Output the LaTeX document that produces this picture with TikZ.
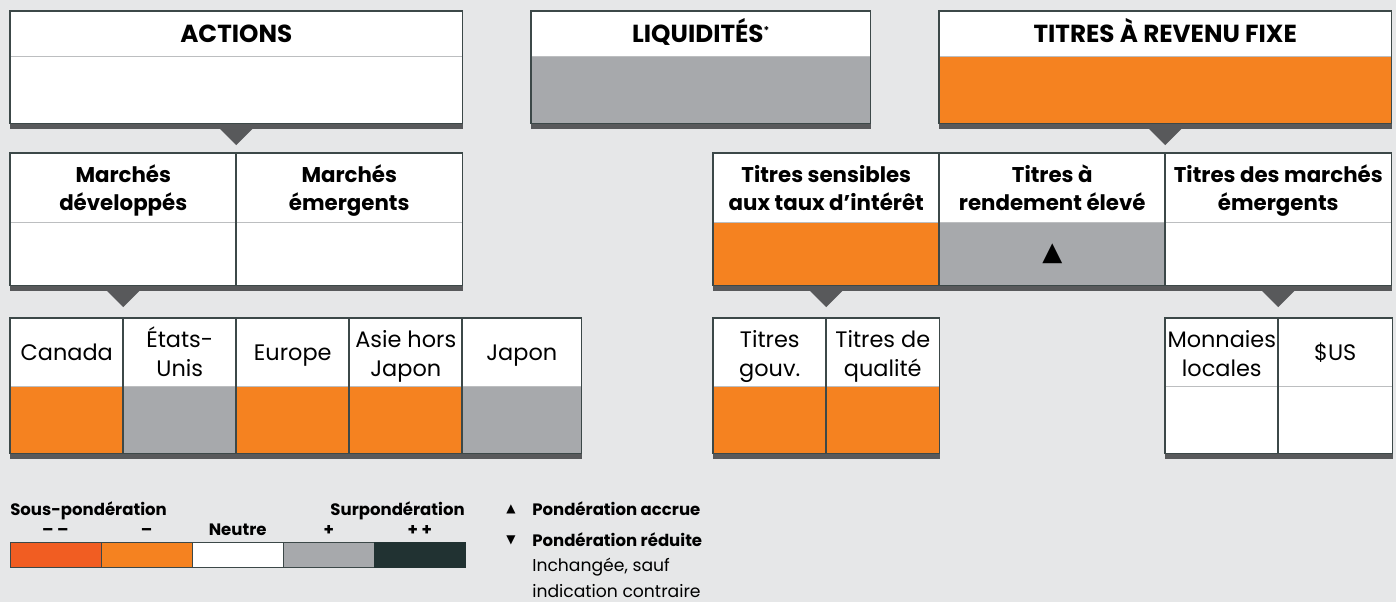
\documentclass[tikz,border=0pt]{standalone}
\usepackage{fontspec}
\setmainfont{Poppins}
\newfontfamily\symfont{DejaVu Sans}
\usetikzlibrary{calc}
\definecolor{bgc}{HTML}{E6E7E8}
\definecolor{orangec}{HTML}{F58220}
\definecolor{dorangec}{HTML}{F15D22}
\definecolor{grayc}{HTML}{A7A9AC}
\definecolor{darkc}{HTML}{213232}
\definecolor{barc}{HTML}{58595B}
\definecolor{bordc}{HTML}{3C4848}
\definecolor{sepcol}{HTML}{BCBEC0}
\tikzset{
  hdr/.style={anchor=north west, inner sep=0pt, fill=white},
  bodycell/.style={anchor=north west, inner sep=0pt},
  bord/.style={draw=bordc, line width=0.9pt},
  sepline/.style={draw=sepcol, line width=0.9pt},
  barfill/.style={fill=barc},
  celltext/.style={inner sep=0pt, anchor=base, align=center, text=black},
  topfont/.style={celltext, font=\fontsize{18.5}{22}\selectfont\bfseries},
  midfont/.style={celltext, font=\fontsize{16}{21}\selectfont\bfseries},
  lowfont/.style={celltext, font=\fontsize{16.8}{21}\selectfont},
  legb/.style={font=\fontsize{12.4}{15}\selectfont\bfseries, inner sep=0pt},
  legr/.style={font=\fontsize{12.9}{15}\selectfont, inner sep=0pt},
  legseg/.style={anchor=north west, inner sep=0pt, draw=bordc, line width=0.7pt,
    minimum width=91*0.75pt, minimum height=25*0.75pt},
}
% name, x, y, w, h1, h2, fill
\newcommand\mycell[7]{%
  \node[hdr, minimum width=#4*0.75pt, minimum height=#5*0.75pt] (#1h) at (#2,#3) {};
  \node[bodycell, fill=#7, minimum width=#4*0.75pt, minimum height=#6*0.75pt] (#1b) at (#2,#3+#5) {};
  \draw[sepline] (#1h.south west) -- (#1h.south east);
  \draw[bord] (#1h.north west) rectangle (#1b.south east);
}
% name, style, baseline (last line), text
\newcommand\mytext[4]{\node[#2] (#1t) at (#1h.center |- 0,#3) {#4};}
\newcommand\mybar[2]{\fill[barfill] (#1b.south west) rectangle ($(#2b.south east)+(0,5)$);}
\newcommand\mypointer[1]{\fill[barfill] ($(#1b.south)+(-16.5,5)$) -- ++(33,0) -- ++(-16.5,16.5) -- cycle;}
\begin{document}
\begin{tikzpicture}[x=0.75pt,y=-0.75pt]
\useasboundingbox[fill=bgc] (0,0) rectangle (1396,602);
% row 1
\mycell{act}{10}{11}{452}{45}{67}{white}
\mycell{liq}{531}{11}{339}{45}{67}{grayc}
\mycell{trf}{939}{11}{452}{45}{67}{orangec}
\mytext{act}{topfont}{43}{ACTIONS}
\mytext{liq}{topfont}{43}{LIQUIDITÉS\raisebox{0.62ex}{\fontsize{8}{8}\selectfont *}}
\mytext{trf}{topfont}{43}{TITRES À REVENU FIXE}
\mybar{act}{act}\mybar{liq}{liq}\mybar{trf}{trf}
\mypointer{act}\mypointer{trf}
% row 2
\mycell{md}{10}{153}{226}{69}{63}{white}
\mycell{me}{236}{153}{226}{69}{63}{white}
\mycell{ts}{713}{153}{226}{69}{63}{orangec}
\mycell{tr}{939}{153}{226}{69}{63}{grayc}
\mycell{tm}{1165}{153}{226}{69}{63}{white}
\mytext{md}{midfont}{211}{Marchés\\développés}
\mytext{me}{midfont}{211}{Marchés\\émergents}
\mytext{ts}{midfont}{211}{Titres sensibles\\aux taux d’intérêt}
\mytext{tr}{midfont}{211}{Titres à\\rendement élevé}
\mytext{tm}{midfont}{211}{Titres des marchés\\émergents}
\mybar{md}{me}\mybar{ts}{tm}
\mypointer{md}\mypointer{ts}\mypointer{tm}
\node[font=\symfont\fontsize{19.5}{19.5}\selectfont, inner sep=0pt] (up) at (trb.center) {▲};
% row 3
\mycell{ca}{10}{318}{113}{68}{67}{orangec}
\mycell{us}{123}{318}{113}{68}{67}{grayc}
\mycell{eu}{236}{318}{113}{68}{67}{orangec}
\mycell{as}{349}{318}{113}{68}{67}{orangec}
\mycell{ja}{462}{318}{119}{68}{67}{grayc}
\mycell{tg}{713}{318}{113}{68}{67}{orangec}
\mycell{tq}{826}{318}{113}{68}{67}{orangec}
\mycell{ml}{1165}{318}{113}{68}{67}{white}
\mycell{ud}{1278}{318}{114}{68}{67}{white}
\mytext{ca}{lowfont}{360}{Canada}
\mytext{us}{lowfont}{376}{États-\\Unis}
\mytext{eu}{lowfont}{360}{Europe}
\mytext{as}{lowfont}{376}{Asie hors\\Japon}
\mytext{ja}{lowfont}{360}{Japon}
\mytext{tg}{lowfont}{376}{Titres\\gouv.}
\mytext{tq}{lowfont}{376}{Titres de\\qualité}
\mytext{ml}{lowfont}{376}{Monnaies\\locales}
\mytext{ud}{lowfont}{360}{\$US}
\mybar{ca}{ja}\mybar{tg}{tq}\mybar{ml}{ud}
% legend scale
\node[legb, anchor=base west] (sous) at (10,515) {Sous-pondération};
\node[legb, anchor=base east] (sur) at (465,515) {Surpondération};
\node[legseg, fill=dorangec] (s1) at (9.5,542) {};
\node[legseg, fill=orangec] (s2) at (100.6,542) {};
\node[legseg, fill=white] (s3) at (191.7,542) {};
\node[legseg, fill=grayc] (s4) at (282.8,542) {};
\node[legseg, fill=darkc, draw=darkc] (s5) at (373.9,542) {};
\node[legb, anchor=base] (l1) at (s1.north |- 0,535) {– –};
\node[legb, anchor=base] (l2) at (s2.north |- 0,535) {–};
\node[legb, anchor=base] (l3) at (s3.north |- 0,535) {Neutre};
\node[legb, anchor=base] (l4) at (s4.north |- 0,535) {+};
\node[legb, anchor=base] (l5) at (s5.north |- 0,535) {+ +};
% legend arrows
\node[font=\symfont\fontsize{9}{9}\selectfont, inner sep=0pt] (tu) at (511,509) {▲};
\node[legb, anchor=base west] (acc) at (532,515) {Pondération accrue};
\node[font=\symfont\fontsize{9}{9}\selectfont, inner sep=0pt] (td) at (511,540) {▼};
\node[legb, anchor=base west] (red) at (532,546) {Pondération réduite};
\node[legr, anchor=base west] (inch1) at (532,571) {Inchangée, sauf};
\node[legr, anchor=base west] (inch2) at (532,597) {indication contraire};
\end{tikzpicture}
\end{document}
